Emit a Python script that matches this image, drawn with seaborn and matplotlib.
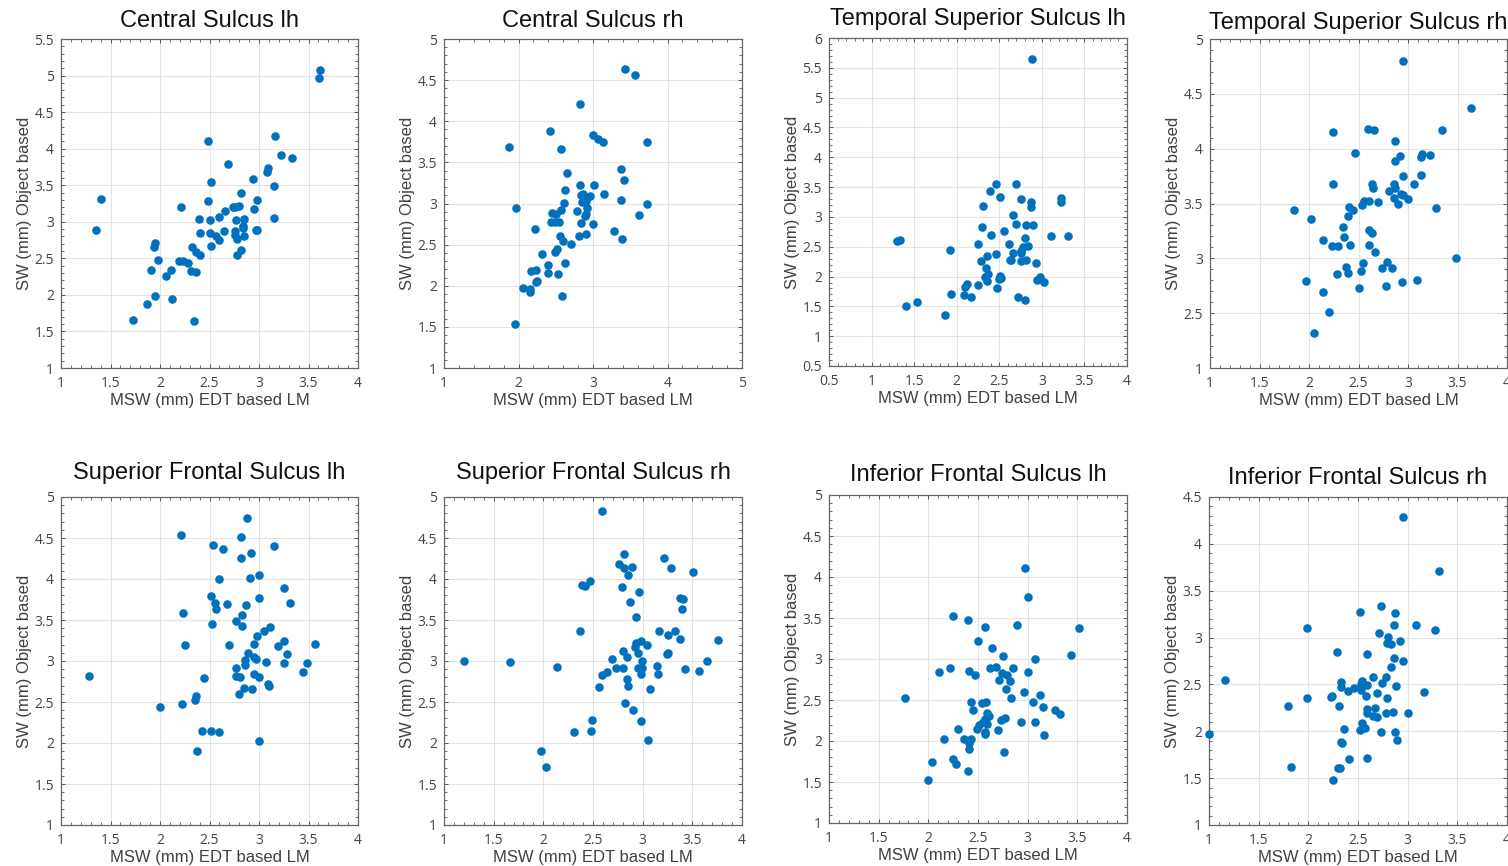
import numpy as np
import pandas as pd
import seaborn as sns
import matplotlib.pyplot as plt
from matplotlib.ticker import AutoMinorLocator

# Central Sulcus lh
cs_lh_x = [3.62, 3.61, 1.40, 1.35, 2.48, 3.16, 3.22, 3.33, 2.69, 3.08, 3.09, 2.94, 2.52, 3.15, 2.82,
           2.48, 2.98, 2.21, 2.74, 2.76, 2.80, 2.66, 2.95, 2.39, 2.50, 2.60, 2.77, 2.85, 3.15, 2.84,
           2.84, 2.40, 2.51, 2.57, 2.60, 2.65, 2.76, 2.76, 2.78, 2.85, 2.97, 2.98, 2.52, 2.32, 2.82,
           2.78, 2.36, 2.40, 1.95, 1.94, 1.98, 2.19, 2.23, 2.28, 1.91, 2.11, 2.06, 2.31, 2.36, 1.95,
           2.12, 1.87, 1.73, 2.34]
cs_lh_y = [5.07, 4.96, 3.31, 2.89, 4.11, 4.18, 3.91, 3.87, 3.79, 3.68, 3.73, 3.58, 3.54, 3.49, 3.39,
           3.28, 3.30, 3.20, 3.20, 3.20, 3.21, 3.15, 3.17, 3.04, 3.02, 3.06, 3.02, 3.04, 3.05, 2.94,
           2.92, 2.84, 2.85, 2.81, 2.75, 2.87, 2.88, 2.82, 2.76, 2.80, 2.89, 2.89, 2.67, 2.66, 2.62,
           2.54, 2.58, 2.54, 2.71, 2.65, 2.48, 2.47, 2.47, 2.44, 2.34, 2.34, 2.26, 2.33, 2.31, 1.98,
           1.95, 1.88, 1.65, 1.64]

# Central Sulcus rh
cs_rh_x = [3.43, 3.57, 2.83, 2.42, 1.87, 3.00, 3.07, 3.14, 3.73, 2.57, 3.37, 2.65, 3.41, 2.83, 3.01,
           2.62, 2.87, 2.84, 2.96, 3.15, 3.38, 2.61, 2.85, 2.91, 3.72, 1.97, 2.92, 2.45, 2.51, 2.57,
           2.78, 2.90, 2.89, 2.43, 2.49, 2.55, 2.84, 3.00, 3.62, 2.22, 3.28, 2.56, 2.60, 2.81, 2.90,
           3.39, 2.70, 2.32, 2.49, 2.52, 2.40, 2.62, 2.40, 2.53, 2.17, 2.24, 2.25, 2.23, 2.06, 2.15,
           2.16, 2.58, 1.95]
cs_rh_y = [4.63, 4.56, 4.21, 3.88, 3.69, 3.83, 3.79, 3.75, 3.75, 3.66, 3.42, 3.37, 3.28, 3.22, 3.22,
           3.16, 3.12, 3.10, 3.09, 3.11, 3.04, 3.01, 3.02, 3.03, 2.99, 2.94, 2.94, 2.89, 2.87, 2.92,
           2.91, 2.87, 2.85, 2.77, 2.77, 2.77, 2.76, 2.75, 2.86, 2.69, 2.67, 2.60, 2.55, 2.61, 2.63,
           2.57, 2.51, 2.38, 2.41, 2.45, 2.25, 2.28, 2.16, 2.14, 2.18, 2.19, 2.06, 2.04, 1.97, 1.96,
           1.92, 1.88, 1.54]

# Temporal Superior Sulcus lh
ts_lh_x = [2.88, 2.46, 2.70, 2.39, 2.51, 2.76, 2.87, 2.87, 3.23, 3.23, 2.31, 2.66, 2.30, 2.70, 2.81,
           2.90, 2.40, 2.55, 3.11, 3.31, 1.30, 1.33, 1.92, 2.25, 2.61, 2.80, 2.84, 2.78, 2.76, 2.75,
           2.46, 2.36, 2.66, 2.62, 2.64, 2.29, 2.75, 2.81, 2.93, 2.34, 2.37, 2.33, 2.51, 2.50, 2.52,
           2.36, 2.98, 2.94, 3.02, 2.12, 2.10, 2.08, 2.47, 2.25, 1.93, 2.17, 2.72, 2.80, 1.53, 1.40,
           1.86]
ts_lh_y = [5.65, 3.56, 3.56, 3.43, 3.33, 3.30, 3.25, 3.16, 3.32, 3.25, 3.18, 3.03, 2.83, 2.88, 2.86,
           2.86, 2.70, 2.77, 2.68, 2.68, 2.60, 2.62, 2.44, 2.55, 2.54, 2.65, 2.52, 2.50, 2.42, 2.40,
           2.38, 2.35, 2.39, 2.28, 2.28, 2.26, 2.26, 2.27, 2.22, 2.14, 2.05, 2.00, 2.01, 1.96, 1.98,
           1.92, 2.00, 1.94, 1.91, 1.88, 1.83, 1.69, 1.81, 1.85, 1.71, 1.66, 1.65, 1.60, 1.58, 1.51,
           1.36]

# Temporal Superior Sulcus rh
ts_rh_x = [2.95, 3.64, 3.34, 2.60, 2.66, 2.24, 2.87, 2.46, 2.92, 2.87, 3.14, 3.13, 3.22, 2.95, 3.13,
           2.24, 2.64, 2.65, 2.86, 2.87, 3.06, 2.81, 2.93, 2.95, 2.86, 3.00, 2.90, 2.56, 2.61, 2.54,
           2.70, 2.40, 2.44, 2.39, 1.85, 2.02, 3.28, 2.34, 2.35, 2.14, 2.61, 2.64, 2.23, 2.29, 2.41,
           2.61, 2.67, 3.48, 2.79, 2.55, 2.37, 2.39, 2.74, 2.84, 2.28, 2.53, 1.97, 2.94, 3.09, 2.78,
           2.51, 2.14, 2.20, 2.05]
ts_rh_y = [4.80, 4.37, 4.17, 4.18, 4.17, 4.15, 4.07, 3.96, 3.93, 3.89, 3.95, 3.92, 3.94, 3.75, 3.76,
           3.68, 3.68, 3.64, 3.68, 3.64, 3.68, 3.61, 3.59, 3.58, 3.55, 3.54, 3.50, 3.52, 3.52, 3.49,
           3.51, 3.47, 3.44, 3.39, 3.44, 3.36, 3.46, 3.29, 3.19, 3.17, 3.26, 3.23, 3.11, 3.11, 3.12,
           3.12, 3.06, 3.00, 2.97, 2.96, 2.92, 2.87, 2.91, 2.91, 2.86, 2.88, 2.79, 2.78, 2.80, 2.75,
           2.73, 2.69, 2.51, 2.32]

# Superior Frontal Sulcus lh
sf_lh_x = [2.88, 2.21, 2.82, 2.54, 2.64, 3.15, 2.92, 2.82, 2.60, 2.91, 3.00, 3.25, 2.52, 3.00, 2.56,
           2.57, 2.68, 2.87, 3.31, 2.23, 2.83, 2.83, 2.77, 2.53, 3.11, 3.05, 2.98, 2.25, 2.70, 2.95,
           3.25, 3.19, 3.57, 2.89, 3.28, 2.95, 2.97, 2.86, 2.86, 3.07, 3.25, 3.48, 2.77, 1.28, 2.77,
           2.81, 2.95, 3.00, 3.44, 2.44, 3.09, 3.10, 2.85, 2.93, 2.80, 2.36, 2.35, 2.22, 2.00, 2.42,
           2.52, 2.60, 3.00, 2.37]
sf_lh_y = [4.75, 4.54, 4.51, 4.41, 4.37, 4.40, 4.32, 4.26, 4.00, 4.01, 4.05, 3.89, 3.79, 3.77, 3.71,
           3.64, 3.69, 3.68, 3.71, 3.58, 3.56, 3.43, 3.49, 3.45, 3.42, 3.36, 3.31, 3.20, 3.19, 3.21,
           3.24, 3.18, 3.21, 3.10, 3.09, 3.05, 3.03, 3.01, 2.95, 2.99, 2.97, 2.98, 2.91, 2.82, 2.82,
           2.80, 2.84, 2.81, 2.86, 2.79, 2.72, 2.70, 2.67, 2.66, 2.60, 2.57, 2.52, 2.48, 2.44, 2.15,
           2.15, 2.14, 2.02, 1.90]

# Superior Frontal Sulcus rh
sf_rh_x = [2.59, 2.81, 3.21, 2.76, 2.81, 2.89, 3.29, 2.85, 3.51, 2.47, 2.39, 2.42, 2.79, 2.96, 2.87,
           3.38, 3.41, 3.40, 2.93, 2.37, 3.16, 3.33, 3.25, 3.38, 3.76, 2.98, 3.04, 2.93, 2.92, 2.95,
           2.80, 3.24, 3.26, 2.84, 2.69, 2.99, 1.20, 1.66, 3.65, 2.14, 2.73, 2.80, 2.95, 2.99, 3.14,
           3.43, 3.57, 2.59, 2.64, 2.98, 3.15, 2.84, 2.85, 2.56, 3.07, 2.82, 2.90, 2.49, 2.98, 2.31,
           2.48, 3.05, 1.98, 2.03]
sf_rh_y = [4.83, 4.30, 4.26, 4.18, 4.13, 4.15, 4.14, 4.05, 4.09, 3.98, 3.93, 3.91, 3.90, 3.84, 3.72,
           3.77, 3.76, 3.63, 3.54, 3.36, 3.37, 3.37, 3.32, 3.27, 3.26, 3.25, 3.20, 3.22, 3.17, 3.10,
           3.12, 3.09, 3.10, 3.05, 3.02, 3.00, 3.00, 2.99, 3.00, 2.93, 2.91, 2.91, 2.92, 2.92, 2.94,
           2.90, 2.88, 2.83, 2.86, 2.84, 2.84, 2.78, 2.69, 2.68, 2.66, 2.49, 2.40, 2.28, 2.27, 2.13,
           2.15, 2.04, 1.90, 1.71]

# Inferior Frontal Sulcus lh
if_lh_x = [2.97, 3.00, 2.25, 2.40, 2.57, 2.89, 3.52, 2.50, 2.64, 2.75, 3.44, 3.07, 2.22, 2.62, 2.68,
           2.85, 2.11, 2.41, 2.74, 2.79, 3.00, 2.47, 2.71, 2.82, 2.78, 2.96, 1.77, 2.83, 3.12, 2.43,
           2.54, 2.58, 3.05, 3.15, 3.28, 3.33, 2.45, 2.59, 2.61, 2.57, 2.55, 2.77, 2.73, 2.93, 3.07,
           2.51, 2.49, 2.59, 2.30, 2.70, 2.57, 2.57, 3.16, 2.16, 2.36, 2.43, 2.41, 2.41, 2.76, 2.25,
           2.28, 2.04, 2.40, 2.00]
if_lh_y = [4.11, 3.76, 3.52, 3.47, 3.39, 3.41, 3.38, 3.22, 3.14, 3.04, 3.05, 3.00, 2.89, 2.89, 2.90,
           2.89, 2.84, 2.85, 2.83, 2.81, 2.84, 2.80, 2.75, 2.73, 2.64, 2.60, 2.52, 2.52, 2.56, 2.47,
           2.46, 2.47, 2.48, 2.41, 2.38, 2.33, 2.38, 2.34, 2.31, 2.27, 2.23, 2.28, 2.26, 2.23, 2.23,
           2.19, 2.15, 2.21, 2.15, 2.13, 2.11, 2.08, 2.07, 2.03, 2.02, 2.02, 1.98, 1.90, 1.86, 1.78,
           1.72, 1.75, 1.64, 1.53]

# Inferior Frontal Sulcus rh
if_rh_x = [2.95, 3.32, 2.73, 2.52, 2.87, 1.99, 2.86, 3.08, 3.28, 2.71, 2.80, 2.92, 2.79, 2.83, 2.29,
           2.59, 2.86, 2.95, 2.83, 1.16, 2.65, 2.78, 2.54, 2.53, 2.53, 2.33, 2.33, 2.59, 2.74, 2.88,
           2.46, 2.40, 3.16, 2.69, 2.24, 2.23, 2.58, 1.99, 2.79, 1.80, 2.31, 2.59, 2.59, 2.67, 2.78,
           2.85, 3.00, 2.65, 2.69, 2.54, 2.52, 2.57, 2.36, 2.73, 2.87, 1.00, 2.89, 2.33, 2.34, 2.41,
           2.59, 2.30, 2.32, 1.83, 2.25]
if_rh_y = [4.29, 3.71, 3.34, 3.27, 3.26, 3.10, 3.13, 3.13, 3.08, 3.05, 3.01, 2.96, 2.94, 2.93, 2.85,
           2.83, 2.78, 2.75, 2.69, 2.55, 2.58, 2.58, 2.54, 2.50, 2.44, 2.53, 2.47, 2.49, 2.52, 2.48,
           2.46, 2.43, 2.42, 2.41, 2.38, 2.37, 2.38, 2.36, 2.35, 2.27, 2.27, 2.24, 2.20, 2.25, 2.19,
           2.21, 2.19, 2.16, 2.15, 2.09, 2.01, 2.03, 2.02, 1.99, 1.99, 1.97, 1.91, 1.89, 1.88, 1.70,
           1.71, 1.61, 1.61, 1.62, 1.48]

titles = ["Central Sulcus lh", "Central Sulcus rh", "Temporal Superior Sulcus lh",
          "Temporal Superior Sulcus rh", "Superior Frontal Sulcus lh", "Superior Frontal Sulcus rh",
          "Inferior Frontal Sulcus lh", "Inferior Frontal Sulcus rh"]
xs = [cs_lh_x, cs_rh_x, ts_lh_x, ts_rh_x, sf_lh_x, sf_rh_x, if_lh_x, if_rh_x]
ys = [cs_lh_y, cs_rh_y, ts_lh_y, ts_rh_y, sf_lh_y, sf_rh_y, if_lh_y, if_rh_y]

# axis limits and ticks per panel
xlims = [(1, 4), (1, 5), (0.5, 4), (1, 4), (1, 4), (1, 4), (1, 4), (1, 4)]
ylims = [(1, 5.5), (1, 5), (0.5, 6), (2, 5), (1, 5), (1, 5), (1, 5), (1, 4.5)]
xsteps = [0.5, 1, 0.5, 0.5, 0.5, 0.5, 0.5, 0.5]
ysteps = [0.5, 0.5, 0.5, 0.5, 0.5, 0.5, 0.5, 0.5]

sns.set_theme(style="whitegrid")
plt.rcParams['font.family'] = ['Liberation Sans', 'DejaVu Sans']

fig = plt.figure(figsize=(15.08, 8.66), dpi=100)
W, H = 1508, 866
boxes = [(61, 39, 358, 368), (444, 39, 742, 368), (829, 38, 1127, 366), (1210, 39, 1507, 368),
         (61, 497, 358, 825), (444, 497, 742, 825), (829, 495, 1127, 823), (1209, 497, 1507, 825)]
title_pads = [9, 9, 9, 7, 13, 13, 10, 9]

blue = "#0072BD"
for i in range(8):
    x0, y0, x1, y1 = boxes[i]
    ax = fig.add_axes([x0 / W, 1 - y1 / H, (x1 - x0) / W, (y1 - y0) / H])
    df = pd.DataFrame({"x": xs[i], "y": ys[i]})
    sns.scatterplot(data=df, x="x", y="y", ax=ax, color=blue, s=38, linewidth=0, clip_on=False, zorder=3)
    ax.set_xlim(*xlims[i])
    ax.set_ylim(*ylims[i])
    ax.set_xticks(np.arange(xlims[i][0], xlims[i][1] + 1e-6, xsteps[i]))
    yt = np.arange(ylims[i][0], ylims[i][1] + 1e-6, ysteps[i])
    ax.set_yticks(yt)
    ax.set_xticklabels([f"{v:g}" for v in ax.get_xticks()], family=['Open Sans', 'DejaVu Sans'])
    ylab = [f"{v:g}" for v in yt]
    if i == 3:
        ylab[0] = "1"
    ax.set_yticklabels(ylab, family=['Open Sans', 'DejaVu Sans'])
    ax.xaxis.set_minor_locator(AutoMinorLocator(5))
    ax.yaxis.set_minor_locator(AutoMinorLocator(5))
    ax.tick_params(which="both", direction="in", top=True, right=True, bottom=True, left=True,
                   colors="#555555", labelcolor="#444444", labelsize=10)
    ax.tick_params(which="major", length=3, width=0.7)
    ax.tick_params(which="minor", length=2, width=0.6)
    ax.tick_params(axis="x", which="major", pad=6)
    ax.tick_params(axis="y", which="major", pad=5)
    ax.grid(True, which="major", color="#e3e3e3", linewidth=0.8)
    for sp in ax.spines.values():
        sp.set_color("#666666")
        sp.set_linewidth(0.9)
    ax.set_xlabel("MSW (mm) EDT based LM", fontsize=12, color="#404040", labelpad=1)
    ax.set_ylabel("SW (mm) Object based", fontsize=12, color="#404040", labelpad=2)
    ax.set_title(titles[i], fontsize=17, color="#111111", pad=title_pads[i])

fig.savefig("out.png", dpi=100)
